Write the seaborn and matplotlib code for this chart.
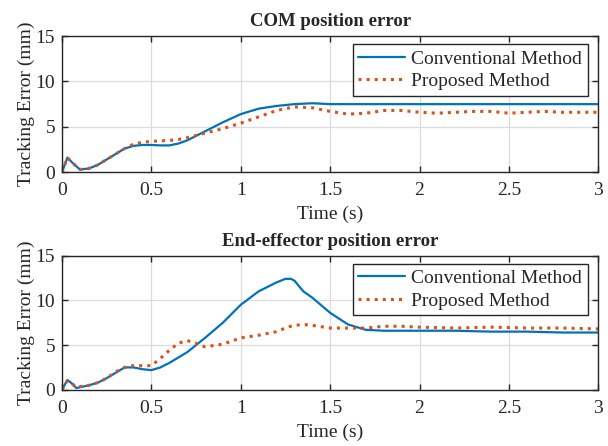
import matplotlib.pyplot as plt
import seaborn as sns

# time samples (s) and tracking errors (mm)
t_com = [0, 0.03, 0.06, 0.1, 0.15, 0.2, 0.25, 0.3, 0.35, 0.4, 0.45, 0.5, 0.55, 0.6, 0.65, 0.7, 0.8, 0.9,
         1.0, 1.1, 1.2, 1.3, 1.4, 1.5, 1.6, 1.7, 1.8, 1.9, 2.0, 2.1, 2.2, 2.3, 2.4, 2.5, 2.6, 2.7, 2.8, 2.9, 3.0]
com_conv = [0, 1.6, 1.0, 0.3, 0.4, 0.8, 1.4, 2.0, 2.6, 2.9, 3.0, 3.0, 2.95, 2.95, 3.15, 3.5, 4.5, 5.5,
            6.4, 7.0, 7.3, 7.5, 7.6, 7.5, 7.5, 7.5, 7.5, 7.5, 7.5, 7.5, 7.5, 7.5, 7.5, 7.5, 7.5, 7.5, 7.5, 7.5, 7.5]
com_prop = [0, 1.6, 1.0, 0.3, 0.4, 0.8, 1.4, 2.0, 2.6, 3.1, 3.3, 3.4, 3.45, 3.5, 3.6, 3.8, 4.3, 4.8,
            5.4, 6.1, 6.8, 7.2, 7.1, 6.7, 6.4, 6.5, 6.8, 6.8, 6.6, 6.5, 6.6, 6.7, 6.7, 6.5, 6.6, 6.7, 6.6, 6.6, 6.6]

t_ee = [0, 0.03, 0.05, 0.08, 0.15, 0.2, 0.25, 0.3, 0.35, 0.4, 0.45, 0.5, 0.55, 0.6, 0.65, 0.7, 0.75, 0.8, 0.9,
        1.0, 1.1, 1.2, 1.25, 1.28, 1.3, 1.35, 1.4, 1.5, 1.6, 1.7, 1.8, 1.9, 2.0, 2.2, 2.4, 2.6, 2.8, 3.0]
ee_conv = [0, 1.1, 0.8, 0.2, 0.5, 0.8, 1.3, 1.9, 2.5, 2.5, 2.3, 2.2, 2.5, 3.0, 3.6, 4.2, 5.0, 5.8, 7.5,
           9.5, 11.0, 12.0, 12.4, 12.4, 12.2, 11.0, 10.3, 8.6, 7.3, 6.7, 6.6, 6.6, 6.6, 6.6, 6.5, 6.5, 6.4, 6.4]
ee_prop = [0, 1.0, 0.8, 0.3, 0.5, 0.8, 1.3, 2.0, 2.5, 2.7, 2.7, 2.7, 3.5, 4.4, 5.2, 5.5, 5.2, 4.8, 5.1,
           5.8, 6.1, 6.5, 6.9, 7.1, 7.2, 7.3, 7.2, 6.9, 6.9, 6.9, 7.1, 7.1, 7.0, 6.9, 7.0, 6.9, 6.9, 6.8]

titles = ['COM position error', 'End-effector position error']
series = [(t_com, com_conv, com_prop), (t_ee, ee_conv, ee_prop)]

sns.set_style("whitegrid")
plt.rcParams['font.family'] = ['Liberation Serif', 'DejaVu Serif']

fig = plt.figure(figsize=(6.08, 4.46), dpi=100)
boxes = [[0.102, 0.614, 0.882, 0.305], [0.102, 0.126, 0.882, 0.301]]

for box, title, (t, conv, prop) in zip(boxes, titles, series):
    ax = fig.add_axes(box)
    sns.lineplot(x=t, y=conv, ax=ax, color='#0072BD', lw=1.6, label='Conventional Method')
    sns.lineplot(x=t, y=prop, ax=ax, color='#D95319', lw=2.2, linestyle=':', label='Proposed Method')
    ax.set_xlim(0, 3)
    ax.set_ylim(0, 15)
    ax.set_xticks([0, 0.5, 1, 1.5, 2, 2.5, 3])
    ax.set_xticklabels(['0', '0.5', '1', '1.5', '2', '2.5', '3'])
    ax.set_yticks([0, 5, 10, 15])
    ax.grid(True, color='#dcdcdc', lw=0.9)
    for s in ax.spines.values():
        s.set_color('#262626')
        s.set_linewidth(1.0)
        s.set_visible(True)
    ax.tick_params(direction='in', length=4, width=1.0, color='#262626', labelsize=14, labelcolor='#262626',
                   top=True, right=True, bottom=True, left=True)
    ax.tick_params(axis='x', pad=7)
    ax.tick_params(axis='y', pad=5)
    ax.set_title(title, fontsize=13.5, fontweight='bold', pad=7)
    ax.set_xlabel('Time (s)', fontsize=14, labelpad=5, color='#262626')
    ax.set_ylabel('Tracking Error (mm)', fontsize=14, labelpad=0, color='#262626')
    leg = ax.legend(loc='upper right', fontsize=14, frameon=True, fancybox=False,
                    handlelength=2.4, borderpad=0.3, labelspacing=0.25, handletextpad=0.3,
                    borderaxespad=0, bbox_to_anchor=(0.98, 0.94))
    leg.get_frame().set_edgecolor('#262626')
    leg.get_frame().set_linewidth(1.0)
    leg.get_frame().set_alpha(1)

fig.savefig('out.png', dpi=100)
